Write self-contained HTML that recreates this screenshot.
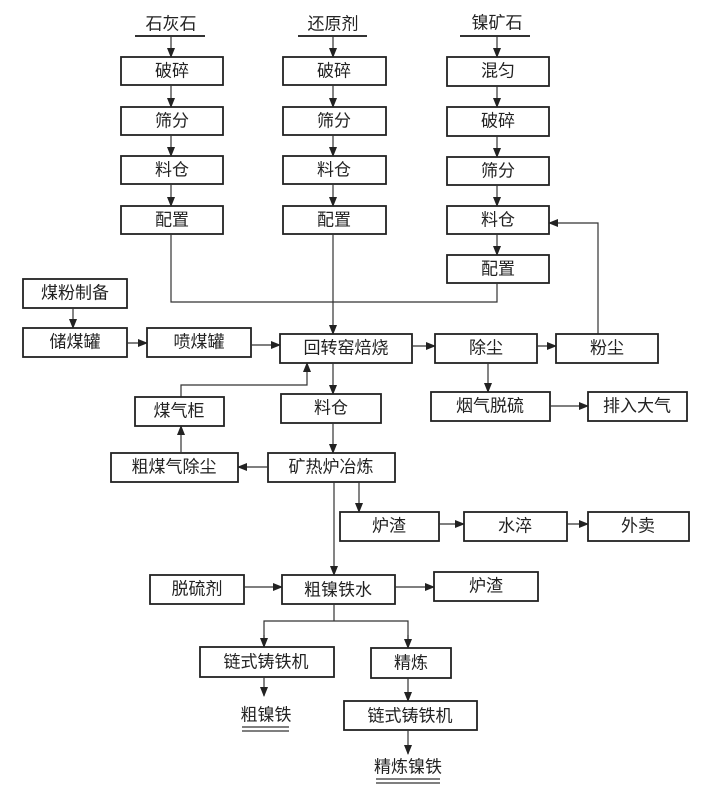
<!DOCTYPE html>
<html><head><meta charset="utf-8"><style>
html,body{margin:0;padding:0;background:#fff;}
svg{display:block;}
text{font-family:"Liberation Sans","Noto Sans CJK SC",sans-serif;font-size:17px;fill:#222;text-anchor:middle;dominant-baseline:central;}
rect{fill:#fff;stroke:#222;stroke-width:1.8;}
line,polyline{stroke:#333;stroke-width:1.2;fill:none;}
</style></head><body>
<svg width="708" height="801" viewBox="0 0 708 801" xmlns="http://www.w3.org/2000/svg">
<defs><marker id="a" markerWidth="10" markerHeight="8" refX="9" refY="4" orient="auto" markerUnits="userSpaceOnUse"><path d="M0,0 L10,4 L0,8 z" fill="#222"/></marker></defs>

<text x="171" y="24">石灰石</text><line x1="135" y1="36" x2="205" y2="36" style="stroke-width:2"/>
<text x="333" y="24">还原剂</text><line x1="298" y1="36" x2="367" y2="36" style="stroke-width:2"/>
<text x="497" y="23">镍矿石</text><line x1="460" y1="36" x2="530" y2="36" style="stroke-width:2"/>

<line x1="171" y1="36" x2="171" y2="57" marker-end="url(#a)"/>
<rect x="121" y="57" width="102" height="28"/><text x="172" y="71">破碎</text>
<line x1="171" y1="85" x2="171" y2="107" marker-end="url(#a)"/>
<rect x="121" y="107" width="102" height="28"/><text x="172" y="121">筛分</text>
<line x1="171" y1="135" x2="171" y2="156" marker-end="url(#a)"/>
<rect x="121" y="156" width="102" height="28"/><text x="172" y="170">料仓</text>
<line x1="171" y1="184" x2="171" y2="206" marker-end="url(#a)"/>
<rect x="121" y="206" width="102" height="28"/><text x="172" y="220">配置</text>

<line x1="333" y1="36" x2="333" y2="57" marker-end="url(#a)"/>
<rect x="283" y="57" width="103" height="28"/><text x="334" y="71">破碎</text>
<line x1="333" y1="85" x2="333" y2="107" marker-end="url(#a)"/>
<rect x="283" y="107" width="103" height="28"/><text x="334" y="121">筛分</text>
<line x1="333" y1="135" x2="333" y2="156" marker-end="url(#a)"/>
<rect x="283" y="156" width="103" height="28"/><text x="334" y="170">料仓</text>
<line x1="333" y1="184" x2="333" y2="206" marker-end="url(#a)"/>
<rect x="283" y="206" width="103" height="28"/><text x="334" y="220">配置</text>

<line x1="497" y1="36" x2="497" y2="57" marker-end="url(#a)"/>
<rect x="447" y="57" width="102" height="29"/><text x="498" y="71">混匀</text>
<line x1="497" y1="86" x2="497" y2="107" marker-end="url(#a)"/>
<rect x="447" y="107" width="102" height="29"/><text x="498" y="121">破碎</text>
<line x1="497" y1="136" x2="497" y2="157" marker-end="url(#a)"/>
<rect x="447" y="157" width="102" height="28"/><text x="498" y="171">筛分</text>
<line x1="497" y1="185" x2="497" y2="206" marker-end="url(#a)"/>
<rect x="447" y="206" width="102" height="28"/><text x="498" y="220">料仓</text>
<line x1="497" y1="234" x2="497" y2="255" marker-end="url(#a)"/>
<rect x="447" y="255" width="102" height="28"/><text x="498" y="269">配置</text>

<polyline points="171,234 171,302 497,302 497,283"/>
<line x1="333" y1="234" x2="333" y2="334" marker-end="url(#a)"/>
<polyline points="598,334 598,223 549,223" marker-end="url(#a)"/>

<rect x="23" y="279" width="104" height="29"/><text x="75" y="293">煤粉制备</text>
<line x1="73" y1="308" x2="73" y2="328" marker-end="url(#a)"/>
<rect x="23" y="328" width="104" height="29"/><text x="75" y="342">储煤罐</text>
<line x1="127" y1="343" x2="147" y2="343" marker-end="url(#a)"/>
<rect x="147" y="328" width="104" height="29"/><text x="199" y="342">喷煤罐</text>
<line x1="251" y1="345" x2="280" y2="345" marker-end="url(#a)"/>

<rect x="280" y="334" width="132" height="29"/><text x="346" y="348">回转窑焙烧</text>
<line x1="412" y1="346" x2="435" y2="346" marker-end="url(#a)"/>
<rect x="435" y="334" width="102" height="29"/><text x="486" y="348">除尘</text>
<line x1="537" y1="346" x2="556" y2="346" marker-end="url(#a)"/>
<rect x="556" y="334" width="102" height="29"/><text x="607" y="348">粉尘</text>

<line x1="488" y1="363" x2="488" y2="392" marker-end="url(#a)"/>
<rect x="431" y="392" width="119" height="29"/><text x="490" y="406">烟气脱硫</text>
<line x1="550" y1="406" x2="588" y2="406" marker-end="url(#a)"/>
<rect x="588" y="392" width="99" height="29"/><text x="637" y="406">排入大气</text>

<polyline points="181,397 181,385 307,385 307,363" marker-end="url(#a)"/>
<rect x="135" y="397" width="89" height="29"/><text x="179" y="411">煤气柜</text>
<line x1="333" y1="363" x2="333" y2="394" marker-end="url(#a)"/>
<rect x="281" y="394" width="100" height="29"/><text x="331" y="408">料仓</text>
<line x1="333" y1="423" x2="333" y2="453" marker-end="url(#a)"/>

<rect x="268" y="453" width="127" height="29"/><text x="331" y="467">矿热炉冶炼</text>
<line x1="268" y1="467" x2="238" y2="467" marker-end="url(#a)"/>
<rect x="111" y="453" width="127" height="29"/><text x="174" y="467">粗煤气除尘</text>
<line x1="181" y1="453" x2="181" y2="426" marker-end="url(#a)"/>

<line x1="359" y1="482" x2="359" y2="512" marker-end="url(#a)"/>
<rect x="340" y="512" width="99" height="29"/><text x="389" y="526">炉渣</text>
<line x1="439" y1="524" x2="464" y2="524" marker-end="url(#a)"/>
<rect x="464" y="512" width="103" height="29"/><text x="515" y="526">水淬</text>
<line x1="567" y1="524" x2="588" y2="524" marker-end="url(#a)"/>
<rect x="588" y="512" width="101" height="29"/><text x="638" y="526">外卖</text>

<line x1="334" y1="482" x2="334" y2="575" marker-end="url(#a)"/>
<rect x="150" y="575" width="94" height="29"/><text x="197" y="589">脱硫剂</text>
<line x1="244" y1="587" x2="282" y2="587" marker-end="url(#a)"/>
<rect x="282" y="575" width="113" height="29"/><text x="338" y="590">粗镍铁水</text>
<line x1="395" y1="587" x2="434" y2="587" marker-end="url(#a)"/>
<rect x="434" y="572" width="104" height="29"/><text x="486" y="586">炉渣</text>

<polyline points="334,604 334,621"/>
<polyline points="264,647 264,621 408,621 408,648"/>
<line x1="264" y1="635" x2="264" y2="647" marker-end="url(#a)"/>
<line x1="408" y1="635" x2="408" y2="648" marker-end="url(#a)"/>
<rect x="200" y="647" width="134" height="30"/><text x="266" y="662">链式铸铁机</text>
<rect x="371" y="648" width="80" height="30"/><text x="411" y="663">精炼</text>
<line x1="264" y1="677" x2="264" y2="696" marker-end="url(#a)"/>
<text x="266" y="715">粗镍铁</text>
<line x1="242" y1="727" x2="289" y2="727"/><line x1="242" y1="731" x2="289" y2="731"/>
<line x1="408" y1="678" x2="408" y2="701" marker-end="url(#a)"/>
<rect x="344" y="701" width="133" height="29"/><text x="410" y="716">链式铸铁机</text>
<line x1="408" y1="730" x2="408" y2="754" marker-end="url(#a)"/>
<text x="408" y="767">精炼镍铁</text>
<line x1="376" y1="779" x2="440" y2="779"/><line x1="376" y1="783" x2="440" y2="783"/>
</svg>
</body></html>
